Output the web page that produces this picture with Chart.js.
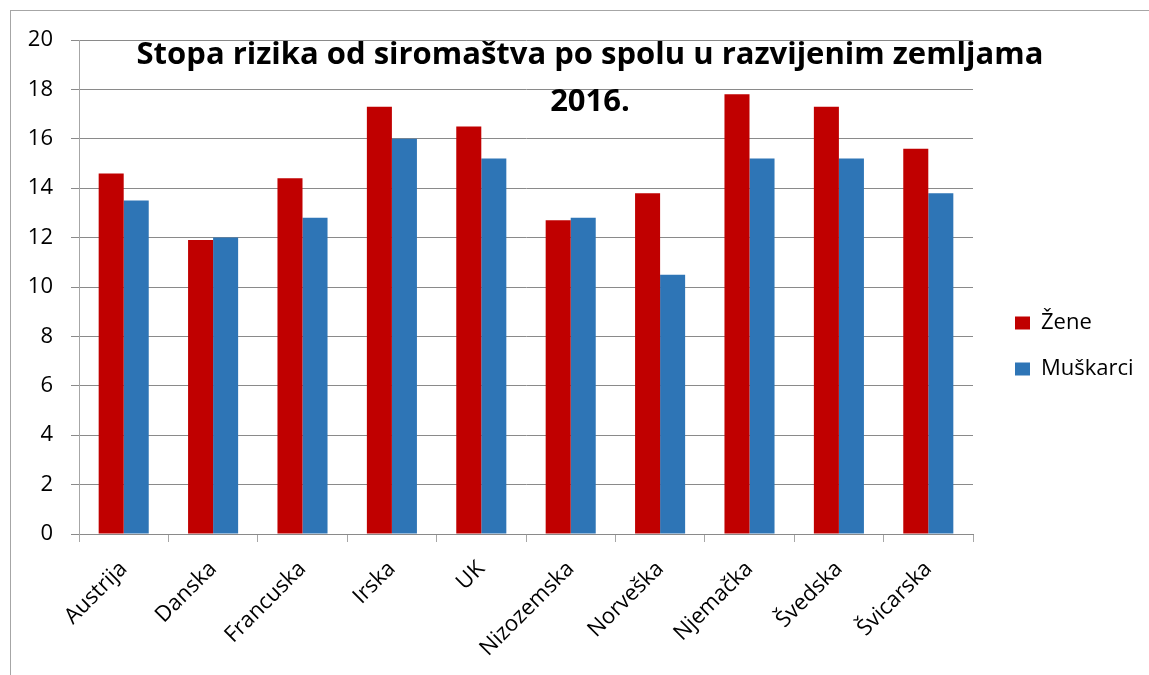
<!DOCTYPE html>
<html lang="hr">
<head>
    <meta charset="UTF-8">
    <title>Stopa rizika od siromaštva po spolu</title>
    <script src="https://cdn.jsdelivr.net/npm/chart.js"></script>
    <style>
        html, body { margin: 0; padding: 0; background: #fff; }
        #wrap { position: relative; width: 1149px; height: 675px; overflow: hidden; }
        #frame { position: absolute; left: 10px; top: 10px; width: 1200px; height: 700px;
                 border-left: 1px solid #a6a6a6; border-top: 1px solid #a6a6a6; }
        #chart { position: absolute; left: 0; top: 0; }
        #naslov { position: absolute; left: 90px; width: 1000px; top: 29px; text-align: center;
                  font-family: "Open Sans", Lato, sans-serif; font-weight: bold; font-size: 31px;
                  line-height: 47px; color: #000; }
    </style>
</head>
<body>
    <div id="wrap">
        <div id="frame"></div>
        <canvas id="chart" width="1149" height="675"></canvas>
        <div id="naslov">Stopa rizika od siromaštva po spolu u razvijenim zemljama<br>2016.</div>
    </div>

    <script>
        // podaci
        const zemlje = ['Austrija', 'Danska', 'Francuska', 'Irska', 'UK', 'Nizozemska',
                        'Norveška', 'Njemačka', 'Švedska', 'Švicarska'];
        const zene = [14.6, 11.9, 14.4, 17.3, 16.5, 12.7, 13.8, 17.8, 17.3, 15.6];
        const muskarci = [13.5, 12.0, 12.8, 16.0, 15.2, 12.8, 10.5, 15.2, 15.2, 13.8];
        const yTicks = [0, 2, 4, 6, 8, 10, 12, 14, 16, 18, 20];

        const font = '"Open Sans", Lato, sans-serif';

        // legenda desno, pomaknuta na mjesto kao u Excelu
        const legendaPlugin = {
            id: 'legendaPlugin',
            beforeLayout(chart) {
                const l = chart.legend;
                if (l && !l._patched) {
                    const fit = l.fit;
                    l.fit = function () { fit.call(this); this.width = 176; };
                    l._patched = true;
                }
            },
            afterLayout(chart) {
                const l = chart.legend;
                const w = l.width;
                l.left = 991; l.right = 991 + w;
                l.top = 40; l.bottom = 652;
            }
        };

        new Chart(document.getElementById('chart'), {
            type: 'bar',
            data: {
                labels: zemlje,
                datasets: [
                    { label: 'Žene', data: zene, backgroundColor: '#C00000' },
                    { label: 'Muškarci', data: muskarci, backgroundColor: '#2E75B6' }
                ]
            },
            options: {
                responsive: false,
                animation: false,
                layout: { padding: { top: 40, left: 0, right: 0, bottom: 0 } },
                datasets: { bar: { categoryPercentage: 0.56, barPercentage: 1.0 } },
                plugins: {
                    title: { display: false },
                    tooltip: { enabled: false },
                    legend: {
                        position: 'right',
                        labels: {
                            boxWidth: 15, boxHeight: 13, padding: 24,
                            color: '#000', font: { family: font, size: 22 }
                        }
                    }
                },
                scales: {
                    x: {
                        afterFit(s) { s.height = 141; },
                        grid: { drawOnChartArea: false, tickLength: 8, color: '#a6a6a6' },
                        border: { color: '#8a8a8a' },
                        ticks: {
                            autoSkip: false, minRotation: 45, maxRotation: 45, padding: 14,
                            color: '#000', font: { family: font, size: 22 }
                        }
                    },
                    y: {
                        min: 0, max: 20,
                        afterFit(s) { s.width = 79; },
                        afterBuildTicks(s) { s.ticks = yTicks.map(v => ({ value: v })); },
                        grid: { color: '#8a8a8a', tickLength: 8 },
                        border: { color: '#a6a6a6' },
                        ticks: { padding: 18, color: '#000', font: { family: font, size: 22 } }
                    }
                }
            },
            plugins: [legendaPlugin]
        });
    </script>
</body>
</html>
